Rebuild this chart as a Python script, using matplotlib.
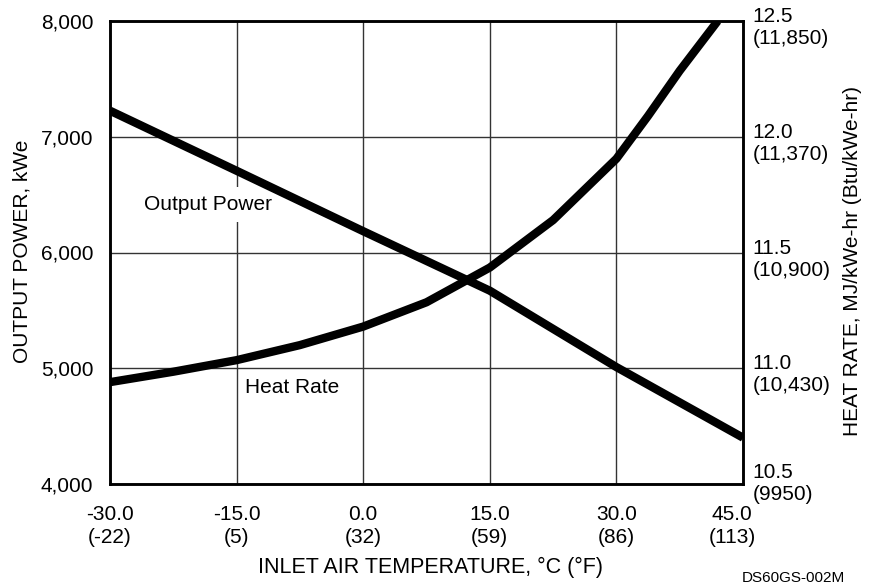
import matplotlib
matplotlib.use("Agg")
import matplotlib.pyplot as plt
from matplotlib.transforms import ScaledTranslation

plt.rcParams['font.family'] = ['Liberation Sans', 'DejaVu Sans']

# Data
temp_c_power = [-30.0, -15.0, 0.0, 15.0, 30.0, 45.0]
output_power = [7225, 6706, 6184, 5670, 5010, 4400]

temp_c_hr = [-30.0, -22.5, -15.0, -7.5, 0.0, 7.5, 15.0, 22.5, 30.0, 33.75, 37.5, 42.0]
heat_rate = [10.94, 10.985, 11.035, 11.10, 11.18, 11.285, 11.435, 11.64, 11.905, 12.09, 12.285, 12.5]

x_ticks = [-30.0, -15.0, 0.0, 15.0, 30.0, 45.0]
x_tick_labels = ['-30.0\n(-22)', '-15.0\n(5)', '0.0\n(32)', '15.0\n(59)', '30.0\n(86)', '45.0\n(113)']
left_ticks = [4000, 5000, 6000, 7000, 8000]
left_tick_labels = ['4,000', '5,000', '6,000', '7,000', '8,000']
right_ticks = [10.5, 11.0, 11.5, 12.0, 12.5]
right_tick_labels = ['10.5\n(9950)', '11.0\n(10,430)', '11.5\n(10,900)', '12.0\n(11,370)', '12.5\n(11,850)']

fig = plt.figure(figsize=(8.76, 5.84), dpi=100)
ax = fig.add_axes([110/876, 1-484/584, (743-110)/876, (484-21)/584])
ax2 = ax.twinx()

FS = 15
ax.set_xlim(-30, 45)
ax.set_ylim(4000, 8000)
ax2.set_ylim(10.5, 12.5)

ax.set_xticks(x_ticks)
ax.set_xticklabels(x_tick_labels, fontsize=FS, linespacing=1.3)
ax.set_yticks(left_ticks)
ax.set_yticklabels(left_tick_labels, fontsize=FS)
ax.tick_params(axis='both', length=0)
ax.tick_params(axis='y', pad=12)
ax.tick_params(axis='x', pad=15)

ax.grid(True, color='#333333', linewidth=1.0, zorder=0.5)
ax.set_axisbelow(True)

ax2.set_yticks(right_ticks)
ax2.set_yticklabels(right_tick_labels, fontsize=FS)
ax2.tick_params(axis='y', length=0, pad=7)
rlabs = ax2.get_yticklabels()
for i, lab in enumerate(rlabs):
    lab.set_verticalalignment('top')
    dy = 10 if i > 0 else 15
    lab.set_transform(lab.get_transform() + ScaledTranslation(0, dy/72, fig.dpi_scale_trans))

xl = ax.get_xticklabels()
xl[-1].set_transform(xl[-1].get_transform() + ScaledTranslation(-8/72, 0, fig.dpi_scale_trans))

for a in (ax, ax2):
    for s in a.spines.values():
        s.set_linewidth(1.8)
        s.set_color('black')

ax.plot(temp_c_power, output_power, color='black', linewidth=6.0, solid_capstyle='butt', zorder=3)
ax2.plot(temp_c_hr, heat_rate, color='black', linewidth=6.0, solid_capstyle='butt', zorder=3)

ax.text(-18.44, 6416, 'Output Power', fontsize=FS, ha='center', va='center', zorder=2,
        bbox=dict(facecolor='white', edgecolor='none', pad=6))
ax.text(-8.4, 4833, 'Heat Rate', fontsize=FS, ha='center', va='center', zorder=2)

fig.text(430/876, 1-567/584, 'INLET AIR TEMPERATURE, °C (°F)', fontsize=15.5, ha='center', va='center')
fig.text(22/876, 1-251/584, 'OUTPUT POWER, kWe', fontsize=FS, ha='center', va='center', rotation=90)
fig.text(853/876, 1-261/584, 'HEAT RATE, MJ/kWe-hr (Btu/kWe-hr)', fontsize=FS, ha='center', va='center', rotation=90)
fig.text(793/876, 1-578/584, 'DS60GS-002M', fontsize=11, ha='center', va='center')

fig.savefig('out.png', dpi=100)
